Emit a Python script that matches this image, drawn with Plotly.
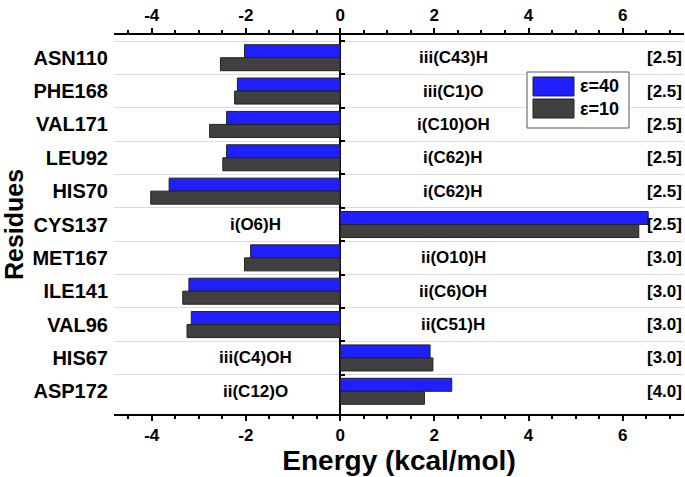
import plotly.graph_objects as go

residues = ["ASN110", "PHE168", "VAL171", "LEU92", "HIS70", "CYS137",
            "MET167", "ILE141", "VAL96", "HIS67", "ASP172"]
eps40 = [-2.03, -2.18, -2.41, -2.41, -3.63, 6.54, -1.90, -3.21, -3.16, 1.91, 2.37]
eps10 = [-2.54, -2.24, -2.77, -2.49, -4.02, 6.34, -2.03, -3.34, -3.25, 1.97, 1.79]
interactions = ["iii(C43)H", "iii(C1)O", "i(C10)OH", "i(C62)H", "i(C62)H", "i(O6)H",
                "ii(O10)H", "ii(C6)OH", "ii(C51)H", "iii(C4)OH", "ii(C12)O"]
distances = ["[2.5]", "[2.5]", "[2.5]", "[2.5]", "[2.5]", "[2.5]",
             "[3.0]", "[3.0]", "[3.0]", "[3.0]", "[4.0]"]
series_names = ["ε=40", "ε=10"]
series_colors = ["#1f1fff", "#404040"]
x_tickvals = [-4, -2, 0, 2, 4, 6]
x_ticktext = ["-4", "-2", "0", "2", "4", "6"]

xr = [-4.8, 7.3]
FONT = "Liberation Sans, Arial, sans-serif"

fig = go.Figure()
for vals, name, col in zip([eps40, eps10], series_names, series_colors):
    fig.add_trace(go.Bar(y=residues, x=vals, orientation="h", name=name, showlegend=False,
                         marker=dict(color=col, line=dict(color="#222222", width=1))))
# invisible trace to bind the top axis
fig.add_trace(go.Scatter(x=eps40, y=residues, xaxis="x2", mode="markers",
                         marker=dict(opacity=0), showlegend=False, hoverinfo="skip"))
# invisible trace to bind the y-axis drawn at x=0
fig.add_trace(go.Scatter(x=eps40, y=residues, yaxis="y2", mode="markers",
                         marker=dict(opacity=0), showlegend=False, hoverinfo="skip"))

for r, v, lab, d in zip(residues, eps40, interactions, distances):
    fig.add_annotation(x=2.4 if v < 0 else -1.8, y=r, text=lab, showarrow=False,
                       font=dict(family=FONT, size=17, color="black", weight="bold"))
    fig.add_annotation(x=1.0, xref="paper", y=r, text=d, showarrow=False, xanchor="right",
                       font=dict(family=FONT, size=17, color="black", weight="bold"))

# legend box (drawn to match the large swatches of the original)
fig.add_shape(type="rect", xref="paper", yref="paper", x0=0.7246, x1=0.9035,
              y0=0.7546, y1=0.9024, line=dict(color="#555555", width=1), fillcolor="white")
leg_rows = [(0.8892, 0.8391), (0.8311, 0.7810)]
for (ytop, ybot), name, col in zip(leg_rows, series_names, series_colors):
    fig.add_shape(type="rect", xref="paper", yref="paper", x0=0.7351, x1=0.8070,
                  y0=ybot, y1=ytop, fillcolor=col, line=dict(color="#222222", width=1))
    fig.add_annotation(xref="paper", yref="paper", x=0.814, y=(ytop + ybot) / 2,
                       text=name, showarrow=False, xanchor="left", yanchor="middle",
                       font=dict(family=FONT, size=18, color="black", weight="bold"))

tickfont = dict(family=FONT, size=17, color="black", weight="bold")
axis_common = dict(range=xr, tickvals=x_tickvals, ticktext=x_ticktext, ticks="outside",
                   ticklen=5, tickwidth=2, tickcolor="black", showline=True,
                   linecolor="black", linewidth=2, showgrid=False, tickfont=tickfont,
                   automargin=False,
                   minor=dict(dtick=0.5, ticks="outside", ticklen=3, tickwidth=1.5,
                              tickcolor="black", showgrid=False))

fig.update_layout(
    width=685, height=477,
    margin=dict(l=114, r=1, t=35, b=63),
    paper_bgcolor="white", plot_bgcolor="white",
    barmode="group", bargap=0.22, bargroupgap=0.0,
    font=dict(family=FONT, color="black"),
    showlegend=False,
    xaxis=dict(**axis_common, zeroline=True, zerolinecolor="black", zerolinewidth=2,
               title=dict(text="Energy (kcal/mol)", standoff=0,
                          font=dict(family=FONT, size=28, color="black", weight="bold"))),
    xaxis2=dict(**axis_common, overlaying="x", side="top", matches="x", zeroline=False),
    yaxis=dict(autorange="reversed", tickson="boundaries", showgrid=True,
               gridcolor="#dcdcdc", gridwidth=1, ticks="", showline=False,
               tickfont=dict(family=FONT, size=20, color="black", weight="bold"),
               ticklabelstandoff=5, automargin=False,
               title=dict(text="Residues", standoff=2,
                          font=dict(family=FONT, size=25, color="black", weight="bold"))),
    yaxis2=dict(overlaying="y", matches="y", anchor="free", automargin=False,
                position=(0 - xr[0]) / (xr[1] - xr[0]),
                tickson="boundaries", ticks="inside", ticklen=4, tickwidth=1.5,
                tickcolor="black", showticklabels=False, showgrid=False, showline=False),
)

fig.write_html("out.html", config={"displayModeBar": False},
               post_script="document.body.style.margin='0';")
